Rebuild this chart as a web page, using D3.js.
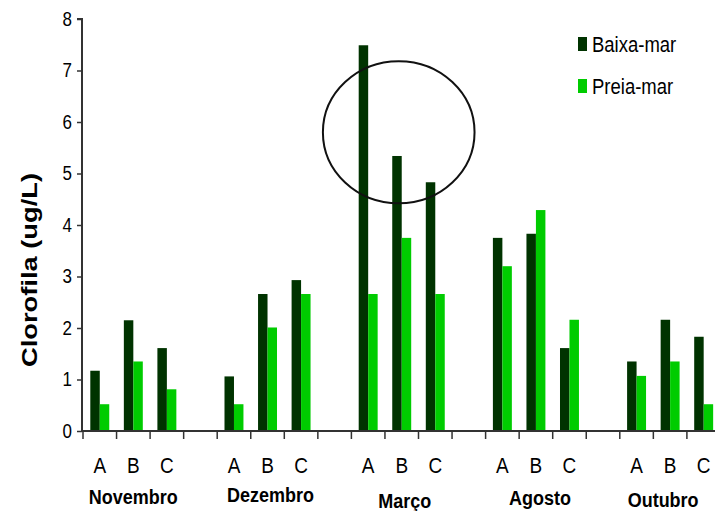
<!DOCTYPE html>
<html>
<head>
<meta charset="utf-8">
<script src="https://cdn.jsdelivr.net/npm/d3@7"></script>
<style>
  html, body { margin: 0; padding: 0; background: #fff; }
  svg { display: block; font-family: "Liberation Sans", Arial, sans-serif; }
</style>
</head>
<body>
<svg id="chart" width="715" height="511"></svg>
<script>
// Chlorophyll by month, site and tide
const months = ["Novembro", "Dezembro", "Março", "Agosto", "Outubro"];
const sites = ["A", "B", "C"];
const tides = ["Baixa-mar", "Preia-mar"];
const baixaMar = [1.17, 2.15, 1.61, 1.06, 2.66, 2.93, 7.49, 5.34, 4.83, 3.75, 3.83, 1.61, 1.35, 2.16, 1.83];
const preiaMar = [0.52, 1.35, 0.81, 0.52, 2.01, 2.66, 2.66, 3.75, 2.66, 3.20, 4.29, 2.16, 1.07, 1.35, 0.52];
const yTicks = [0, 1, 2, 3, 4, 5, 6, 7, 8];

// small nudges for the month captions (dx, dy in px)
const monthNudge = [[0, 0], [3, -2], [3, 4], [4, 1], [-7, 3]];

const colors = { "Baixa-mar": "#003300", "Preia-mar": "#00cc00" };
const TALL = 1.15; // vertical stretch of the lettering

const svg = d3.select("#chart");
const W = 715;
const x0 = 83, slotW = 33.55;

// slot list: three sites per month, an empty slot between months
const slots = [];
months.forEach((m, i) => {
  sites.forEach(s => slots.push(m + "|" + s));
  if (i < months.length - 1) slots.push("gap" + i);
});

const x = d3.scaleBand().domain(slots).range([x0, x0 + slots.length * slotW]).padding(0);
const xt = d3.scaleBand().domain(tides).range([0, x.bandwidth()]).paddingInner(0).paddingOuter(0.77);
const y = d3.scaleLinear().domain([0, 8]).range([431, 19]);

// records
const rows = [];
months.forEach((m, mi) => sites.forEach((s, si) => {
  const k = mi * 3 + si;
  rows.push({ slot: m + "|" + s, tide: "Baixa-mar", v: baixaMar[k] });
  rows.push({ slot: m + "|" + s, tide: "Preia-mar", v: preiaMar[k] });
}));

// bars
svg.append("g").selectAll("rect").data(rows).join("rect")
  .attr("x", d => x(d.slot) + xt(d.tide))
  .attr("width", xt.bandwidth())
  .attr("y", d => y(d.v))
  .attr("height", d => y(0) - y(d.v))
  .attr("fill", d => colors[d.tide]);

// y axis
const yAxis = d3.axisLeft(y).tickValues(yTicks).tickSize(5).tickPadding(5).tickFormat(d3.format("d"));
const gy = svg.append("g").attr("transform", "translate(82,0)").call(yAxis);
gy.select(".domain").attr("stroke", "#333").attr("stroke-width", 2).attr("d", `M-5,${y(8)}H0V${y(0)}`);
gy.selectAll(".tick line").attr("stroke", "#333").attr("stroke-width", 1.5);
gy.selectAll(".tick text").attr("font-size", 17).attr("fill", "#000")
  .attr("font-family", "Liberation Sans, Arial, sans-serif")
  .attr("transform", `scale(1,${TALL})`);

// x axis line and slot boundary ticks
const gx = svg.append("g");
gx.append("line").attr("x1", 81).attr("x2", W).attr("y1", y(0)).attr("y2", y(0))
  .attr("stroke", "#333").attr("stroke-width", 2);
const bounds = slots.map(s => x(s)).concat([x(slots[slots.length - 1]) + x.bandwidth()]);
gx.selectAll("line.tk").data(bounds.filter(b => b <= W)).join("line").attr("class", "tk")
  .attr("x1", d => d).attr("x2", d => d)
  .attr("y1", y(0)).attr("y2", y(0) + 8)
  .attr("stroke", "#333").attr("stroke-width", 1.5);

// site letters
gx.selectAll("text.site").data(slots.filter(s => !s.startsWith("gap"))).join("text").attr("class", "site")
  .attr("transform", d => `translate(${x(d) + x.bandwidth() / 2},473) scale(1,${TALL})`)
  .attr("text-anchor", "middle")
  .attr("font-size", 19)
  .attr("fill", "#000")
  .text(d => d.split("|")[1]);

// month captions
gx.selectAll("text.month").data(months).join("text").attr("class", "month")
  .attr("transform", (m, i) =>
    `translate(${x(m + "|B") + x.bandwidth() / 2 + monthNudge[i][0]},${504 + monthNudge[i][1]}) scale(1,${TALL})`)
  .attr("text-anchor", "middle")
  .attr("font-size", 18)
  .attr("font-weight", "bold")
  .attr("fill", "#000")
  .text(m => m);

// y axis title
svg.append("text")
  .attr("transform", `translate(37,270) rotate(-90)`)
  .attr("text-anchor", "middle")
  .attr("font-size", 22)
  .attr("font-weight", "bold")
  .attr("textLength", 194)
  .attr("lengthAdjust", "spacingAndGlyphs")
  .attr("fill", "#000")
  .text("Clorofila (ug/L)");

// highlight around the March peaks
svg.append("ellipse")
  .attr("cx", x("Março|B") + x.bandwidth() / 2 - 3)
  .attr("cy", y(5.8))
  .attr("rx", x.bandwidth() * 2.26)
  .attr("ry", y(0) - y(1.38))
  .attr("fill", "none")
  .attr("stroke", "#111")
  .attr("stroke-width", 2);

// legend
const lg = svg.append("g").attr("transform", "translate(578,37)");
tides.forEach((t, i) => {
  const g = lg.append("g").attr("transform", `translate(0,${i * 42})`);
  g.append("rect").attr("width", 9).attr("height", 14).attr("fill", colors[t]);
  g.append("text").attr("transform", `translate(14,15) scale(1,${TALL})`)
    .attr("font-size", 18.5).attr("fill", "#000").text(t);
});
</script>
</body>
</html>
